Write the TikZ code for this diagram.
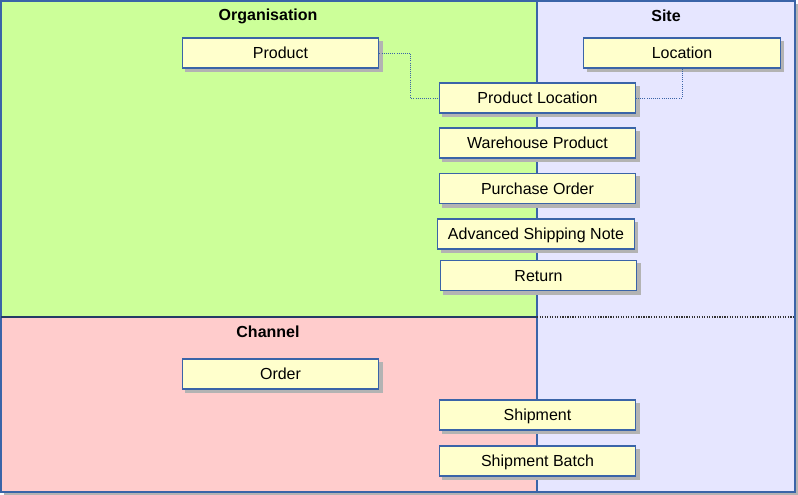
\documentclass[tikz,border=0pt]{standalone}
\usepackage{fontspec}
\setmainfont{Liberation Sans}
\usetikzlibrary{positioning}

\definecolor{orgfill}{HTML}{CCFF99}
\definecolor{sitefill}{HTML}{E6E6FF}
\definecolor{chanfill}{HTML}{FFCCCC}
\definecolor{boxfill}{HTML}{FFFFCC}
\definecolor{edgeblue}{HTML}{3A64A8}
\definecolor{shadegray}{HTML}{B3B3B3}

\tikzset{
  entity/.style={draw=edgeblue, fill=boxfill, line width=0.9pt, inner sep=0pt,
    minimum width=147.5pt, minimum height=22.5pt, font=\fontsize{12}{14}\selectfont,
    text height=1.75ex, text depth=0.15ex,
    preaction={fill=shadegray, draw=shadegray, transform canvas={xshift=2.6pt, yshift=-2.6pt}}},
  area/.style={font=\bfseries\fontsize{12}{14}\selectfont},
  link/.style={draw=edgeblue, densely dotted, line width=0.6pt}
}

\begin{document}
\begin{tikzpicture}[x=0.75pt,y=-0.75pt]
  \useasboundingbox (0,0) rectangle (798,495);
  % swimlanes
  \fill[shadegray] (4,4) rectangle (798,495);
  \fill[orgfill] (1,1) rectangle (537,317);
  \fill[chanfill] (1,317) rectangle (537,492);
  \fill[sitefill] (537,1) rectangle (795,492);
  \draw[edgeblue, line width=0.9pt] (1,1) rectangle (795,492);
  \draw[edgeblue, line width=0.9pt] (537,1) -- (537,492);
  \draw[edgeblue!60!black, line width=0.9pt] (1,317) -- (537,317);
  \draw[black!80, densely dotted, line width=0.9pt] (537,317) -- (795,317);

  \node[area] (org)  at (268,16)  {Organisation};
  \node[area] (site) at (666,16)  {Site};
  \node[area] (chan) at (268,332) {Channel};

  % entities
  \node[entity] (product)  at (280.5,53)  {Product};
  \node[entity] (location) at (682,53)    {Location};
  \node[entity] (prodloc)  at (537.5,98)  {Product Location};
  \node[entity] (whprod)   at (537.5,143) {Warehouse Product};
  \node[entity] (purch)    at (537.5,188.5) {Purchase Order};
  \node[entity] (asn)      at (536,234)   {Advanced Shipping Note};
  \node[entity] (return)   at (538.5,275.5) {Return};
  \node[entity] (order)    at (280.5,374) {Order};
  \node[entity] (shipment) at (537.5,415) {Shipment};
  \node[entity] (batch)    at (537.5,461) {Shipment Batch};

  % links
  \draw[link] (product.east) -- ++(31,0) |- (prodloc.west);
  \draw[link] (location.south) |- (prodloc.east);
\end{tikzpicture}
\end{document}
